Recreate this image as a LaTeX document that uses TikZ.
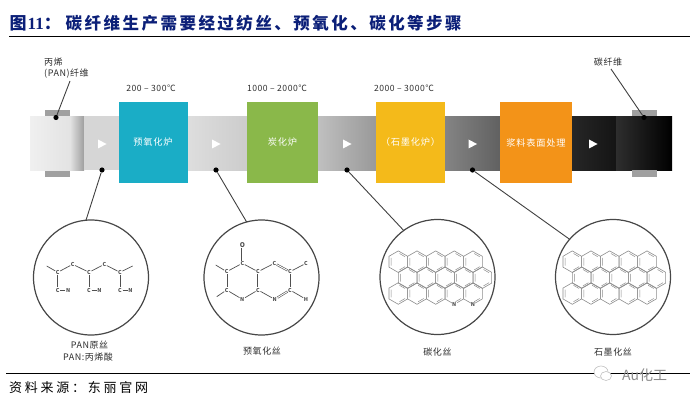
\documentclass[tikz,border=0pt]{standalone}
\usepackage{fontspec}
\setmainfont{Noto Sans CJK SC}
\newfontfamily\titlefont[LetterSpace=15]{Noto Sans CJK SC}
\newfontfamily\boxfont[LetterSpace=9]{Noto Sans CJK SC}
\newfontfamily\srcfont[LetterSpace=21]{Noto Sans CJK SC}
\newfontfamily\lblfont[LetterSpace=6]{Noto Sans CJK SC}
\newfontfamily\latinserif{Liberation Serif}
\newcommand{\widecolon}{\symbol{"FF1A}}
\definecolor{navy}{HTML}{0B1F78}
\definecolor{txt}{HTML}{2E2E2E}
\definecolor{bond}{HTML}{505050}
\definecolor{hexc}{HTML}{8C8C8C}
\definecolor{tab}{HTML}{A0A0A0}
\definecolor{fteal}{HTML}{1AADC6}
\definecolor{fgreen}{HTML}{8AB84A}
\definecolor{fyellow}{HTML}{F4BA1A}
\definecolor{forange}{HTML}{F39318}
\tikzset{
  furnace/.style={rectangle,draw=none,inner sep=0,outer sep=0,text=white,font=\boxfont\fontsize{9.2}{10}\selectfont},
  temp/.style={text=txt,font=\lblfont\fontsize{8.6}{10}\selectfont,inner sep=0},
  capt/.style={text=txt,font=\normalfont\lblfont\fontsize{9}{11}\selectfont,inner sep=0,align=center},
  dotnode/.style={circle,fill=black,inner sep=0,minimum size=5.2pt},
  lens/.style={circle,draw=black!72,line width=1.2pt,minimum size=115pt,inner sep=0,outer sep=0},
  leader/.style={draw=black!75,line width=.9pt},
  atom/.style={inner sep=.5pt,text=bond,font=\fontsize{5.4}{6}\selectfont\bfseries},
  sb/.style={draw=bond,line width=.7pt},
  db/.style={draw=bond,line width=.6pt,double,double distance=.9pt},
  tb/.style={draw=bond,line width=.4pt,double,double distance=1.1pt},
}
\newcommand{\hexcell}[2]{%
  \draw[hexc,line width=.6pt]
    (#1+9.35,#2-5.4) -- (#1,#2-10.8) -- (#1-9.35,#2-5.4) -- (#1-9.35,#2+5.4) -- (#1,#2+10.8) -- (#1+9.35,#2+5.4) -- cycle;
  \draw[hexc,line width=.5pt] (#1+1.2,#2-8.2) -- (#1+6.7,#2-5)
    (#1-7.2,#2+3.8) -- (#1-7.2,#2-3.8)
    (#1+1.2,#2+8.2) -- (#1+6.7,#2+5);
}
\begin{document}
\begin{tikzpicture}[x=1pt,y=-1pt]
\useasboundingbox (0,0) rectangle (700,406);
% title
\node[anchor=west,inner sep=0,text=navy,font=\fontsize{17}{20}\selectfont\bfseries] (tfig) at (9.5,23.5) {\titlefont 图\hspace{1pt}{\latinserif 11}\widecolon};
\node[anchor=west,inner sep=0,text=navy,font=\fontsize{16.5}{20}\selectfont\bfseries] (ttext) at (65.5,23.5) {\titlefont 碳纤维生产需要经过纺丝、预氧化、碳化等步骤};
\coordinate (rt1) at (9,36); \coordinate (rt2) at (690,36);
\draw[black,line width=.9pt] (rt1) -- (rt2);
% band
\shade[left color=black!6,right color=black!11] (30,116.5) rectangle (70,170);
\shade[left color=black!11,right color=black!38] (70,116.5) rectangle (84,170);
\fill[black!16] (84,116.5) rectangle (119,170);
\shade[left color=black!13,right color=black!20] (187,116.5) rectangle (247,170);
\shade[left color=black!25,right color=black!40] (318,116.5) rectangle (376,170);
\shade[left color=black!48,right color=black!62] (444,116.5) rectangle (500,170);
\shade[left color=black!85,right color=black!92] (572,116.5) rectangle (616,170);
\shade[left color=black!82,right color=black] (616,116.5) rectangle (672,170);
% tabs
\fill[tab] (45,110.5) rectangle (70,116.5);
\fill[tab] (45,170.5) rectangle (70,176.5);
\fill[tab] (632,110.5) rectangle (657,116.5);
\fill[tab] (632,170) rectangle (657,177);
% furnaces
\node[furnace,fill=fteal,minimum width=69pt,minimum height=81.5pt] (f1) at (153,142.5) {预氧化炉};
\node[furnace,fill=fgreen,minimum width=71pt,minimum height=81.5pt] (f2) at (282.5,142.5) {炭化炉};
\node[furnace,fill=fyellow,minimum width=68.5pt,minimum height=81.5pt] (f3) at (410.5,142.5) {（石墨化炉）};
\node[furnace,fill=forange,minimum width=72.5pt,minimum height=81.5pt] (f4) at (536,142.5) {浆料表面处理};
% arrows in band
\foreach \ax in {102,216,347,472.5,593}
  {\fill[white] (\ax-4,139.5) -- (\ax+4.5,144) -- (\ax-4,148.5) -- cycle;}
% temperature labels
\node[temp] (t1) at (151,88.5) {200 – 300℃};
\node[temp] (t2) at (277,88.5) {1000 – 2000℃};
\node[temp] (t3) at (404,88.5) {2000 – 3000℃};
% top labels
\node[capt,anchor=west] (l1) at (44,62) {丙烯};
\node[capt,anchor=west] (l2) at (44,73.5) {(PAN)纤维};
\node[capt] (l3) at (608,62) {碳纤维};
% lenses
\node[lens] (c1) at (91,277.5) {};
\node[lens] (c2) at (261.5,277.5) {};
\node[lens] (c3) at (437.5,277) {};
\node[lens] (c4) at (613,277) {};
% dots and leaders
\node[dotnode] (d0) at (56,117.5) {};
\node[dotnode] (d1) at (102,170) {};
\node[dotnode] (d2) at (216,170) {};
\node[dotnode] (d3) at (347,170) {};
\node[dotnode] (d4) at (472.5,170) {};
\node[dotnode] (d5) at (644,117.5) {};
\coordinate (e0) at (70,81);
\coordinate (e5) at (611,69);
\draw[leader] (e0) -- (d0);
\draw[leader] (e5) -- (d5);
\draw[leader] (d1) -- (c1.95);
\draw[leader] (d2) -- (c2.105);
\draw[leader] (d3) -- (c3.126);
\draw[leader] (d4) -- (c4.139);
% molecule 1
\node[atom] (a1) at (57.7,272.3) {C};
\node[atom] (a2) at (72.7,264.3) {C};
\node[atom] (a3) at (89,272.3) {C};
\node[atom] (a4) at (104.3,264.3) {C};
\node[atom] (a5) at (120,272.3) {C};
\coordinate (a0) at (46.7,266);
\coordinate (a6) at (132.7,266);
\foreach \i/\x in {1/57.7,3/89,5/120}{
  \node[atom] (cc\i) at (\x,290) {C};
  \node[atom] (nn\i) at (\x+10.5,290) {N};
  \draw[tb] (cc\i) -- (nn\i);
  \draw[draw=bond,line width=.4pt] (cc\i) -- (nn\i);
  \draw[sb] (a\i) -- (cc\i);
}
\draw[sb] (a0) -- (a1) -- (a2) -- (a3) -- (a4) -- (a5) -- (a6);
% molecule 2
\node[atom] (b1) at (226.7,271.7) {C};
\node[atom] (b2) at (242.3,263.3) {C};
\node[atom] (b3) at (258,271.7) {C};
\node[atom] (b4) at (274.3,263.3) {C};
\node[atom] (b5) at (290,271.7) {C};
\node[atom] (b6) at (306,263.3) {C};
\node[atom] (b7) at (290,290) {C};
\node[atom] (b8) at (306,299.3) {H};
\node[atom] (b9) at (274.7,299.3) {N};
\node[atom] (b10) at (258,290) {C};
\node[atom] (b11) at (242.3,299.3) {N};
\node[atom] (b12) at (226.7,290) {C};
\node[atom,font=\fontsize{6.5}{7}\selectfont\bfseries] (b13) at (242.3,245) {O};
\coordinate (b14) at (215.7,265);
\coordinate (b15) at (216.7,296.7);
\draw[sb] (b14) -- (b1);
\draw[sb] (b15) -- (b12);
\draw[sb] (b1) -- (b2);
\draw[sb] (b2) -- (b3);
\draw[sb] (b3) -- (b4);
\draw[sb] (b5) -- (b6);
\draw[sb] (b5) -- (b7);
\draw[sb] (b7) -- (b8);
\draw[sb] (b9) -- (b10);
\draw[sb] (b10) -- (b11);
\draw[sb] (b11) -- (b12);
\draw[db] (b2) -- (b13);
\draw[db] (b1) -- (b12);
\draw[db] (b3) -- (b10);
\draw[db] (b4) -- (b5);
\draw[db] (b7) -- (b9);
% molecule 3
\foreach \hx/\hy in {398.3/261.7,417/261.7,435.7/261.7,454.3/261.7,473/261.7,
  407.7/277.7,426.3/277.7,445/277.7,463.7/277.7,482.3/277.7,
  398.3/293.5,417/293.5,435.7/293.5,454.3/293.5,473/293.5}
  {\hexcell{\hx}{\hy}}
\node[atom,fill=white,inner sep=.3pt] (n1) at (454.3,304.3) {N};
\node[atom,fill=white,inner sep=.3pt] (n2) at (473,304.3) {N};
% molecule 4
\foreach \hx/\hy in {572.3/261.7,591/261.7,609.7/261.7,628.3/261.7,647/261.7,
  581.7/277.7,600.3/277.7,619/277.7,637.7/277.7,656.3/277.7,
  572.3/293.5,591/293.5,609.7/293.5,628.3/293.5,647/293.5}
  {\hexcell{\hx}{\hy}}
% captions
\node[capt] (p1) at (89.5,345.5) {PAN原丝};
\node[capt] (p2) at (88,357.5) {PAN:丙烯酸};
\node[capt] (p3) at (262,351) {预氧化丝};
\node[capt] (p4) at (437.5,352) {碳化丝};
\node[capt] (p5) at (613,352) {石墨化丝};
% footer
\coordinate (rb1) at (6,373.5); \coordinate (rb2) at (690,373.5);
\draw[black,line width=.8pt] (rb1) -- (rb2);
\node[anchor=west,inner sep=0,text=black,font=\fontsize{13}{15}\selectfont] (src) at (9,388) {\srcfont 资料来源\widecolon 东丽官网};
% watermark
\draw[black!25,line width=.6pt,fill=white] (601,372) ellipse (7 and 6);
\draw[black!25,line width=.6pt,fill=white] (606,376) ellipse (5.5 and 4.5);
\node[anchor=west,inner sep=0,text=black!45,font=\fontsize{14}{16}\selectfont] (wm) at (622,375.5) {Au化工};
\end{tikzpicture}
\end{document}
